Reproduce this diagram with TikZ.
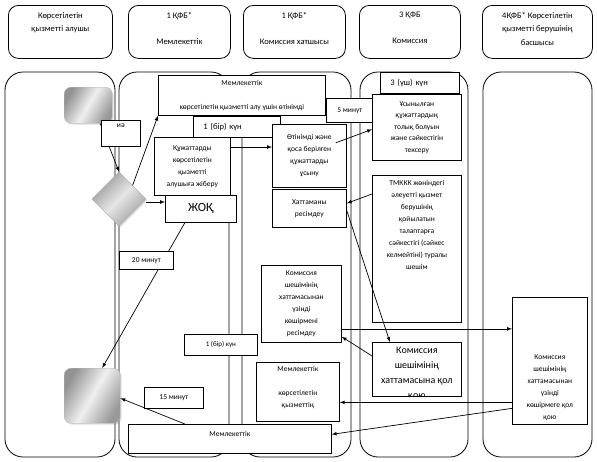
\documentclass[tikz,border=0pt]{standalone}
\usepackage{fontspec}
\setmainfont{Carlito}
\usetikzlibrary{shapes.geometric,shadows}

\begin{document}
\begin{tikzpicture}[x=1pt, y=-1pt,
  lane/.style={draw, line width=0.8pt, rounded corners=18pt},
  head/.style={draw, line width=0.8pt, rounded corners=10pt, anchor=north west, inner sep=0pt},
  htext/.style={anchor=north, align=center, inner sep=1pt, font=\fontsize{8.5}{13.5}\selectfont},
  box/.style={draw, fill=white, line width=0.7pt, anchor=north west, align=center, inner sep=1pt, font=\fontsize{7.5}{12}\selectfont},
  btext/.style={align=center, inner sep=1pt, font=\fontsize{7.5}{12}\selectfont},
  term/.style={draw=gray!60, rounded corners=7pt, anchor=north west, left color=gray!85, right color=gray!80, middle color=gray!12, shading angle=60, drop shadow={opacity=0.25, shadow xshift=1.5pt, shadow yshift=-1.5pt}},
  dia/.style={diamond, draw=gray!70, aspect=1, minimum size=54pt, inner sep=0pt, left color=gray!80, right color=gray!75, middle color=gray!20, shading angle=45, drop shadow={opacity=0.25, shadow xshift=1.5pt, shadow yshift=-1.5pt}},
  arr/.style={-latex, line width=0.7pt}]
\useasboundingbox (0,0) rectangle (597,461);

% swim lanes
\draw[lane] (5,72) rectangle (115,457);
\draw[lane] (119,72) rectangle (229,457);
\draw[lane] (242,72) rectangle (351,457);
\draw[lane] (360,72) rectangle (468,457);
\draw[lane] (483,72) rectangle (592,457);

% headers
\node[head, minimum width=104pt, minimum height=53pt] (h1) at (8,5) {};
\node[htext] (h1t) at ([yshift=-6pt]h1.north) {Көрсетілетін\\қызметті алушы};
\node[head, minimum width=102pt, minimum height=53pt] (h2) at (128,5) {};
\node[htext] (h2t) at ([yshift=-6pt]h2.north) {1 ҚФБ*\\[12.5pt]Мемлекеттік};
\node[head, minimum width=102pt, minimum height=53pt] (h3) at (243,5) {};
\node[htext] (h3t) at ([yshift=-6pt]h3.north) {1 ҚФБ*\\[12.5pt]Комиссия хатшысы};
\node[head, minimum width=101pt, minimum height=53pt] (h4) at (359,5) {};
\node[htext] (h4t) at ([yshift=-6pt]h4.north) {3 ҚФБ\\[12.5pt]Комиссия};
\node[head, minimum width=110pt, minimum height=53pt] (h5) at (482,5) {};
\node[htext] (h5t) at ([yshift=-6pt]h5.north) {4ҚФБ* Көрсетілетін\\қызметті берушінің\\басшысы};

% start, end, choice
\node[term, minimum width=48pt, minimum height=36pt] (start) at (64,87) {};
\node[term, minimum width=56pt, minimum height=55pt] (finish) at (64,368) {};
\node[dia] (choice) at (119,199) {};

% steps
\node[box, minimum width=167pt, minimum height=40pt] (apply) at (158,75) {Мемлекеттік\\[12pt]көрсетілетін қызметті алу үшін өтінімді};
\node[box, minimum width=47pt, minimum height=24pt] (min5) at (326,98) {5 минут};
\node[box, text width=67pt, inner xsep=10pt, minimum height=21pt, align=left, font=\fontsize{8.5}{10}\selectfont] (day1) at (193,116) {1 (бір) күн};
\node[box, minimum width=76pt, minimum height=58pt] (send) at (154,137) {Құжаттарды\\көрсетілетін\\қызметті\\алушыға жіберу};
\node[box, minimum width=71pt, minimum height=27pt, font=\fontsize{12.5}{14}\selectfont] (no) at (165,195) {ЖОҚ};
\node[box, minimum width=74pt, minimum height=63pt] (submit) at (272,124) {Өтінімді және\\қоса берілген\\құжаттарды\\ұсыну};
\node[box, minimum width=74pt, minimum height=38pt] (record) at (272,189) {Хаттаманы\\ресімдеу};
\node[box, text width=59pt, inner xsep=10pt, minimum height=21pt, align=left, font=\fontsize{8.5}{10}\selectfont] (day3) at (380,72) {3 (үш) күн};
\node[box, minimum width=89pt, minimum height=66pt, font=\fontsize{7.5}{11.5}\selectfont] (check) at (372,94) {Ұсынылған\\құжаттардың\\толық болуын\\және сәйкестігін\\тексеру};
\node[box, minimum width=89pt, minimum height=147pt] (decide) at (372,175) {};
\node[btext, anchor=north] (decidet) at ([yshift=-4pt]decide.north) {ТМККК жөніндегі\\әлеуетті қызмет\\берушінің\\қойылатын\\талаптарға\\сәйкестігі (сәйкес\\келмейтіні) туралы\\шешім};
\node[box, minimum width=89pt, minimum height=54pt] (sign) at (372,342) {};
\begin{scope}
  \clip (sign.north west) rectangle (sign.south east);
  \node[btext, anchor=north, font=\fontsize{10}{15}\selectfont] (signt) at ([yshift=-4pt]sign.north) {Комиссия\\шешімінің\\хаттамасына қол\\қою};
\end{scope}
\node[box, minimum width=75pt, minimum height=127pt] (copysign) at (512,297) {};
\node[btext, anchor=south] (copysignt) at ([yshift=3pt]copysign.south) {Комиссия\\шешімінің\\хаттамасынан\\үзінді\\көшірмеге қол\\қою};
\node[box, minimum width=80pt, minimum height=77pt] (copy) at (261,265) {Комиссия\\шешімінің\\хаттамасынан\\үзінді\\көшірмені\\ресімдеу};
\node[box, minimum width=73pt, minimum height=21pt, font=\fontsize{7}{9}\selectfont] (day1b) at (184,334) {1 (бір) күн};
\node[box, minimum width=59pt, minimum height=21pt] (min15) at (144,387) {15 минут};
\node[box, minimum width=83pt, minimum height=59pt] (result) at (256,362) {};
\begin{scope}
  \clip (result.north west) rectangle (result.south east);
  \node[btext, anchor=north] (resultt) at ([yshift=-3pt]result.north) {Мемлекеттік\\[12pt]көрсетілетін\\қызметтің};
\end{scope}
\node[box, minimum width=203pt, minimum height=29pt] (issue) at (128,424) {};
\node[btext] (issuet) at ([yshift=5pt]issue.center) {Мемлекеттік};

% arrows
\draw[arr] ([xshift=12pt]start.south) -- (choice.north);
\draw[arr] (choice.north east) -- (apply.south west);
\draw[arr] ([yshift=-3pt]choice.east) -- ([yshift=-3pt]choice.east -| no.west);
\draw[arr] ([xshift=-16pt]no.south) -- ([xshift=10pt]finish.north);
\draw[arr] ([yshift=-10pt]send.north east) -- ([yshift=-10pt]send.north east -| submit.west);
\draw[arr] ([xshift=-11pt,yshift=13pt]submit.east) -- ([yshift=-2pt]check.west);
\draw[arr] ([yshift=-19pt]decide.north west) -- ([yshift=5pt]record.east);
\draw[arr] ([yshift=-2pt]record.east) -- ([xshift=-27pt]sign.north);
\draw[arr] ([yshift=-25pt]copy.east) -- ([yshift=-25pt]copy.east -| copysign.west);
\draw[arr] ([yshift=-14pt]sign.north west) -- ([yshift=6pt]copy.south east);
\draw[arr] ([yshift=-41.5pt]copysign.west) -- ([yshift=-41.5pt]copysign.west -| result.east);
\draw[arr] ([yshift=-47.5pt]copysign.west) -- ([yshift=4.5pt]issue.east);
\draw[arr] ([xshift=-45pt]issue.north) -- ([yshift=-2.5pt]finish.east);

% labels over the arrows
\node[box, minimum width=39pt, minimum height=26pt] (yes) at (101,120) {иә\\\strut};
\node[box, minimum width=54pt, minimum height=18pt] (min20) at (119,251) {20 минут};
\end{tikzpicture}
\end{document}
